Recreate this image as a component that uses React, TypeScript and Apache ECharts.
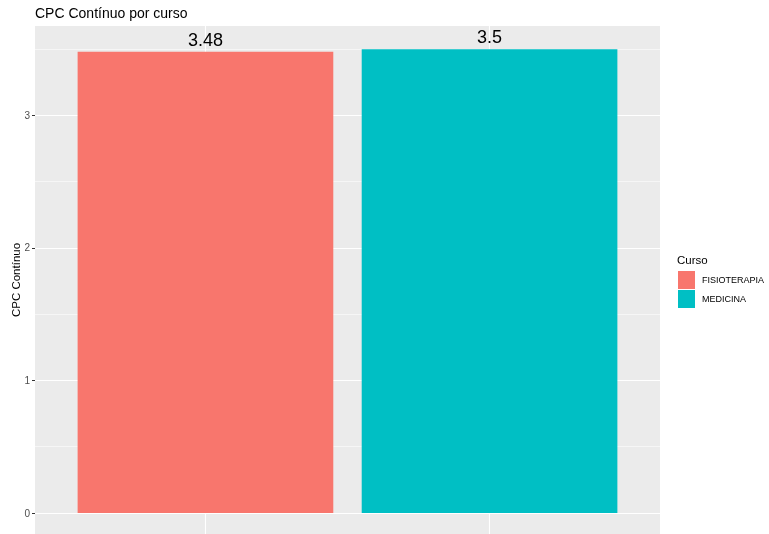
import React, { useEffect, useRef } from "react";
import * as echarts from "echarts";

const categories = ["FISIOTERAPIA", "MEDICINA"];
const values = [3.48, 3.5];
const colors = ["#F8766D", "#00BFC4"];
const yTicks = [0, 1, 2, 3];
const yMinor = [0.5, 1.5, 2.5, 3.5];
const xPositions = [1, 2];

const W = 769;
const H = 534;
const FONT = "'Liberation Sans', Arial, Helvetica, sans-serif";

export default function App() {
  const ref = useRef<HTMLDivElement>(null);
  useEffect(() => {
    if (!ref.current) return;
    const chart = echarts.init(ref.current, undefined, { renderer: "svg" });
    const gridLeft = 35;
    const gridRight = W - 660;
    const gridTop = 26;
    const gridBottom = 0;
    const plotW = W - gridLeft - gridRight;
    const xMin = 0.4;
    const xMax = 2.6;
    const barWidth = (plotW / (xMax - xMin)) * 0.9;
    const yMax = 3.675;
    const zeroPx = 513;
    const yMin = yMax - (yMax * (H - gridTop - gridBottom)) / (zeroPx - gridTop);

    const markData: any[] = [
      ...yMinor.map((v) => ({ yAxis: v, lineStyle: { color: "#ffffff", width: 0.55, type: "solid" } })),
      ...yTicks.map((v) => ({ yAxis: v, lineStyle: { color: "#ffffff", width: 1.1, type: "solid" } })),
      ...xPositions.map((v) => ({ xAxis: v, lineStyle: { color: "#ffffff", width: 1.1, type: "solid" } })),
    ];

    const series: any[] = categories.map((name, i) => ({
      name,
      type: "bar",
      data: [[xPositions[i], values[i]]],
      barWidth,
      barGap: "-100%",
      itemStyle: { color: colors[i] },
      silent: true,
      z: 2,
      label: {
        show: true,
        position: "top",
        distance: 3,
        fontSize: 18,
        color: "#000000",
        fontFamily: FONT,
        formatter: (p: any) => String(p.value[1]),
      },
      emphasis: { disabled: true },
      ...(i === 0
        ? {
            markLine: {
              silent: true,
              z: 1,
              symbol: ["none", "none"],
              label: { show: false },
              emphasis: { disabled: true },
              data: markData,
            },
          }
        : {}),
    }));

    chart.setOption({
      animation: false,
      textStyle: { fontFamily: FONT },
      title: {
        text: "CPC Contínuo por curso",
        left: 35,
        top: 6,
        padding: 0,
        textStyle: { fontSize: 14, fontWeight: "normal", color: "#000000", fontFamily: FONT },
      },
      grid: {
        left: gridLeft,
        right: gridRight,
        top: gridTop,
        bottom: gridBottom,
        show: true,
        backgroundColor: "#EBEBEB",
        borderWidth: 0,
        containLabel: false,
        outerBoundsMode: "none",
      },
      legend: {
        orient: "vertical",
        left: 678,
        top: 271,
        itemWidth: 17,
        itemHeight: 18,
        itemGap: 1,
        padding: 0,
        icon: "rect",
        selectedMode: false,
        data: categories,
        textStyle: { fontSize: 9, color: "#000000", fontFamily: FONT, padding: [0, 0, 0, 2] },
      },
      graphic: [
        {
          type: "text",
          left: 677,
          top: 254,
          style: { text: "Curso", fontSize: 11.5, fill: "#000000", fontFamily: FONT },
        },
      ],
      xAxis: {
        type: "value",
        min: xMin,
        max: xMax,
        show: true,
        axisLine: { show: false },
        axisTick: { show: false },
        axisLabel: { show: false },
        splitLine: { show: false },
      },
      yAxis: {
        type: "value",
        min: yMin,
        max: yMax,
        name: "CPC Contínuo",
        nameLocation: "middle",
        nameGap: 13,
        nameMoveOverlap: false,
        nameTextStyle: { fontSize: 11.5, color: "#000000", fontFamily: FONT },
        axisLine: { show: false },
        axisTick: { show: true, length: 3, customValues: yTicks, lineStyle: { color: "#333333", width: 1 } },
        axisLabel: {
          show: true,
          customValues: yTicks,
          margin: 5,
          fontSize: 10,
          color: "#4D4D4D",
          fontFamily: FONT,
        },
        splitLine: { show: false },
      },
      series,
    });
    return () => chart.dispose();
  }, []);
  return (
    <div
      ref={ref}
      style={{ position: "fixed", left: 0, top: 0, width: W, height: H }}
    />
  );
}
